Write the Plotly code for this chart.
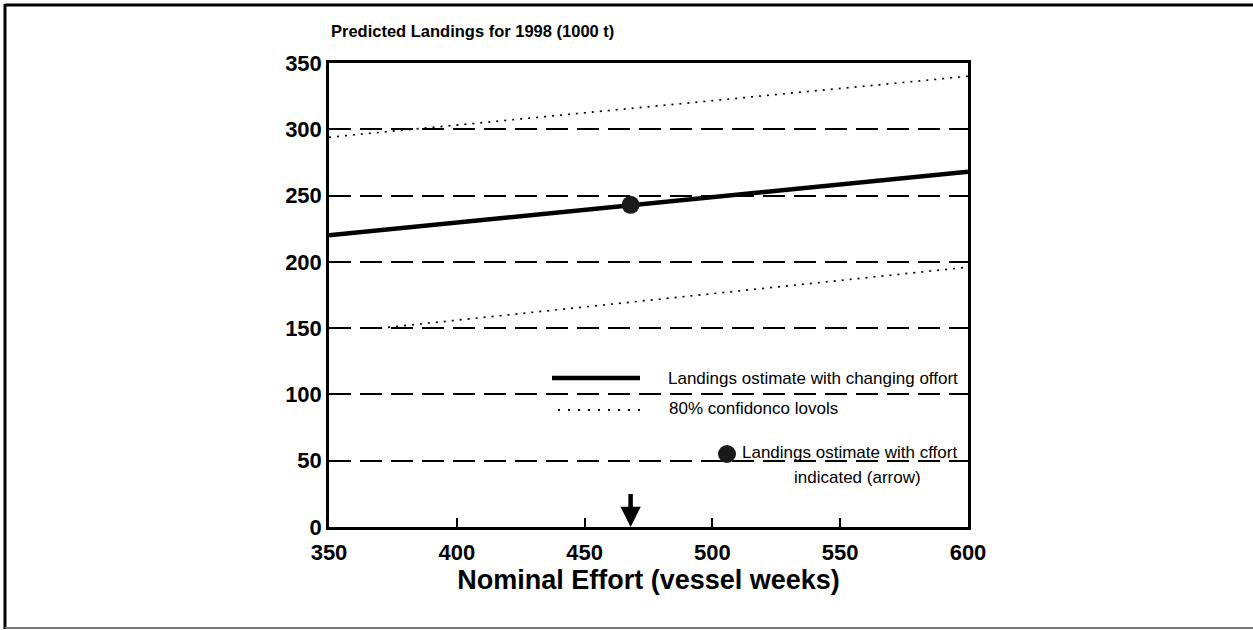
import plotly.graph_objects as go

# ---- data ----
effort = [350, 600]
estimate = [220, 268]
upper_x = [350, 600]
upper_80 = [294, 340]
lower_x = [370, 600]
lower_80 = [150, 196]
point_effort = [468]
point_estimate = [243]

x_ticks = [350, 400, 450, 500, 550, 600]
y_ticks = [0, 50, 100, 150, 200, 250, 300, 350]

title_text = "Predicted Landings for 1998 (1000 t)"
x_title = "Nominal Effort (vessel weeks)"
leg1 = "Landings ostimate with changing offort"
leg2 = "80% confidonco lovols"
leg3 = "Landings ostimate with cffort"
leg3b = "indicated (arrow)"

FONT = "Liberation Sans, Arial, sans-serif"

fig = go.Figure()
fig.add_trace(go.Scatter(x=upper_x, y=upper_80, mode="lines",
                         line=dict(color="black", width=1.7, dash="2px,6px"), hoverinfo="skip"))
fig.add_trace(go.Scatter(x=lower_x, y=lower_80, mode="lines",
                         line=dict(color="black", width=1.7, dash="2px,6px"), hoverinfo="skip"))
fig.add_trace(go.Scatter(x=effort, y=estimate, mode="lines",
                         line=dict(color="black", width=4.5), hoverinfo="skip"))
fig.add_trace(go.Scatter(x=point_effort, y=point_estimate, mode="markers",
                         marker=dict(color="#1a1a1a", size=18, line=dict(width=0)), hoverinfo="skip"))

L, T = 329, 63
PW, PH = 639, 464
def px2x(p):
    return (p - L) / PW
def py2y(p):
    return (T + PH - p) / PH

shapes = []
shapes.append(dict(type="line", xref="paper", yref="paper", x0=px2x(552), x1=px2x(640),
                   y0=py2y(378), y1=py2y(378), line=dict(color="black", width=4.5)))
shapes.append(dict(type="line", xref="paper", yref="paper", x0=px2x(558), x1=px2x(646),
                   y0=py2y(410), y1=py2y(410), line=dict(color="black", width=1.8, dash="2px,8px")))
# outer frame
shapes.append(dict(type="line", xref="paper", yref="paper", x0=px2x(5), x1=px2x(1253),
                   y0=py2y(5), y1=py2y(5), line=dict(color="black", width=3)))
shapes.append(dict(type="line", xref="paper", yref="paper", x0=px2x(5), x1=px2x(5),
                   y0=py2y(4), y1=py2y(629), line=dict(color="black", width=3)))
shapes.append(dict(type="line", xref="paper", yref="paper", x0=px2x(5), x1=px2x(1253),
                   y0=py2y(628), y1=py2y(628), line=dict(color="#777777", width=2)))
# legend marker
shapes.append(dict(type="circle", xref="paper", yref="paper",
                   x0=px2x(718), x1=px2x(736), y0=py2y(445), y1=py2y(463),
                   fillcolor="#1a1a1a", line=dict(width=0)))

LEGFONT = dict(family=FONT, size=17, color="black")
annotations = [
    dict(text=f"<b>{title_text}</b>", xref="paper", yref="paper", x=px2x(329), y=py2y(31),
         xanchor="left", yanchor="middle", showarrow=False,
         font=dict(family=FONT, size=16.5, color="black")),
    dict(text=leg1, xref="paper", yref="paper", x=px2x(666), y=py2y(378),
         xanchor="left", yanchor="middle", showarrow=False, font=LEGFONT),
    dict(text=leg2, xref="paper", yref="paper", x=px2x(667), y=py2y(408),
         xanchor="left", yanchor="middle", showarrow=False, font=LEGFONT),
    dict(text=leg3, xref="paper", yref="paper", x=px2x(740), y=py2y(453),
         xanchor="left", yanchor="middle", showarrow=False, font=LEGFONT),
    dict(text=leg3b, xref="paper", yref="paper", x=px2x(792), y=py2y(477),
         xanchor="left", yanchor="middle", showarrow=False, font=LEGFONT),
    # arrow at the indicated effort
    dict(x=point_effort[0], y=0, ax=point_effort[0], ay=26, xref="x", yref="y",
         axref="x", ayref="y", showarrow=True, arrowhead=2, arrowsize=0.9,
         arrowwidth=4.5, arrowcolor="black", standoff=0, text=""),
]

fig.update_layout(
    width=1253, height=630,
    margin=dict(l=329, r=1253 - 968, t=63, b=630 - 527),
    paper_bgcolor="white", plot_bgcolor="white",
    showlegend=False,
    shapes=shapes,
    annotations=annotations,
    font=dict(family=FONT, color="black"),
)

fig.update_xaxes(
    range=[350, 600], tickvals=x_ticks, ticktext=[f"<b>{v}</b>" for v in x_ticks],
    tickfont=dict(family=FONT, size=22, color="black"), ticklabelstandoff=4,
    ticks="inside", ticklen=9, tickwidth=1.5, tickcolor="black",
    showline=True, linecolor="black", linewidth=2.5, mirror=True,
    showgrid=False, zeroline=False,
    title=dict(text=f"<b>{x_title}</b>", font=dict(family=FONT, size=27, color="black"), standoff=5),
)
fig.update_yaxes(
    range=[0, 350], tickvals=y_ticks, ticktext=[f"<b>{v}</b>" for v in y_ticks],
    tickfont=dict(family=FONT, size=22, color="black"),
    ticks="", showline=True, linecolor="black", linewidth=2.5, mirror=True,
    showgrid=True, gridcolor="black", gridwidth=1.6, griddash="22px,9px",
    zeroline=False,
)

fig.write_html("out.html")
